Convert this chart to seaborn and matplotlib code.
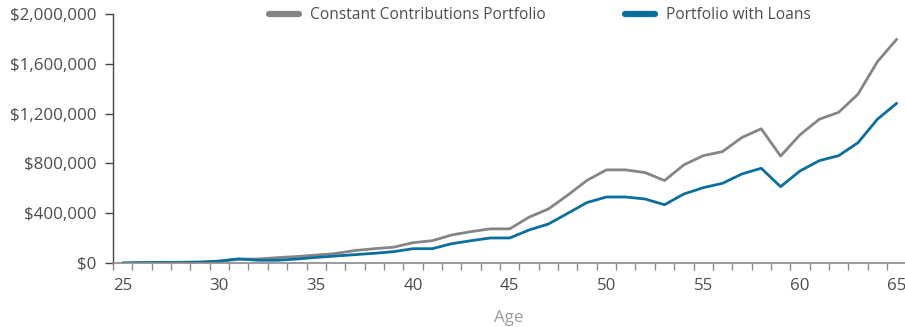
import matplotlib
matplotlib.use("Agg")
import matplotlib.pyplot as plt
import matplotlib.ticker as mticker
import numpy as np
import pandas as pd
import seaborn as sns

# Portfolio value by age for the two savings strategies
ages = list(range(25, 66))
constant_contributions = [
    0, 4000, 5000, 6000, 8000, 14000, 30000, 32000, 43000, 52000,
    64000, 76000, 100000, 115000, 127000, 163000, 179000, 225000, 252000, 274000,
    274000, 368000, 434000, 545000, 664000, 748000, 748000, 726000, 662000, 788000,
    862000, 895000, 1008000, 1078000, 859000, 1029000, 1155000, 1210000, 1356000, 1616000,
    1797000,
]
with_loans = [
    0, 3000, 4000, 5000, 6000, 16000, 33000, 22000, 22000, 32000,
    45000, 56000, 67000, 78000, 91000, 115000, 115000, 155000, 179000, 201000,
    201000, 265000, 313000, 399000, 486000, 530000, 530000, 514000, 468000, 554000,
    605000, 640000, 715000, 761000, 613000, 739000, 822000, 862000, 966000, 1154000,
    1283000,
]
series_names = ["Constant Contributions Portfolio", "Portfolio with Loans"]
y_ticks = [0, 400000, 800000, 1200000, 1600000, 2000000]
x_label_ages = [25, 30, 35, 40, 45, 50, 55, 60, 65]

df = pd.DataFrame({
    "Age": ages * 2,
    "Value": constant_contributions + with_loans,
    "Series": [series_names[0]] * len(ages) + [series_names[1]] * len(ages),
})

sns.set_theme(style="white")
plt.rcParams["font.family"] = ["Open Sans", "DejaVu Sans"]

W, H = 905, 327
fig = plt.figure(figsize=(W / 100, H / 100), dpi=100)
ax = fig.add_axes([113 / W, 64 / H, 792 / W, 249 / H])

palette = {series_names[0]: "#858585", series_names[1]: "#0a6f9c"}
sns.lineplot(data=df, x="Age", y="Value", hue="Series", hue_order=series_names,
             palette=palette, linewidth=2.0, ax=ax, legend=False)

text_color = "#4d4d4d"
ax.set_xlim(24.5, 65.43)
ax.set_ylim(0, 2000000)

ax.set_yticks(y_ticks)
ax.yaxis.set_major_formatter(mticker.FuncFormatter(lambda v, p: f"${v:,.0f}"))
ax.set_xticks(x_label_ages)
ax.xaxis.set_minor_locator(mticker.FixedLocator(np.arange(24.5, 66, 1.0)))

ax.tick_params(axis="y", which="major", left=True, length=5.5, width=1.0,
               color="#444444", labelsize=12.2, labelcolor=text_color, pad=6.5)
ax.tick_params(axis="x", which="major", bottom=True, length=0, labelsize=12.2,
               labelcolor=text_color, pad=10.5)
ax.tick_params(axis="x", which="minor", bottom=True, length=5, width=1.0,
               color="#8a8a8a")

for side in ["top", "right"]:
    ax.spines[side].set_visible(False)
ax.spines["left"].set_color("#444444")
ax.spines["left"].set_linewidth(1.0)
ax.spines["bottom"].set_color("#8a8a8a")
ax.spines["bottom"].set_linewidth(1.2)

ax.set_xlabel("Age", fontsize=12.2, color="#9a9a9a", labelpad=11.5)
ax.set_ylabel("")

handles = [plt.Line2D([], [], color=palette[n], linewidth=4.5, solid_capstyle="round")
           for n in series_names]
fig.legend(handles, series_names, loc="center left",
           bbox_to_anchor=(269 / W, 1 - 15 / H), ncol=2, frameon=False,
           fontsize=11.2, labelcolor=text_color, handlelength=1.95,
           handletextpad=0.68, columnspacing=5.1, borderpad=0, borderaxespad=0)

fig.savefig("out.png", dpi=100)
